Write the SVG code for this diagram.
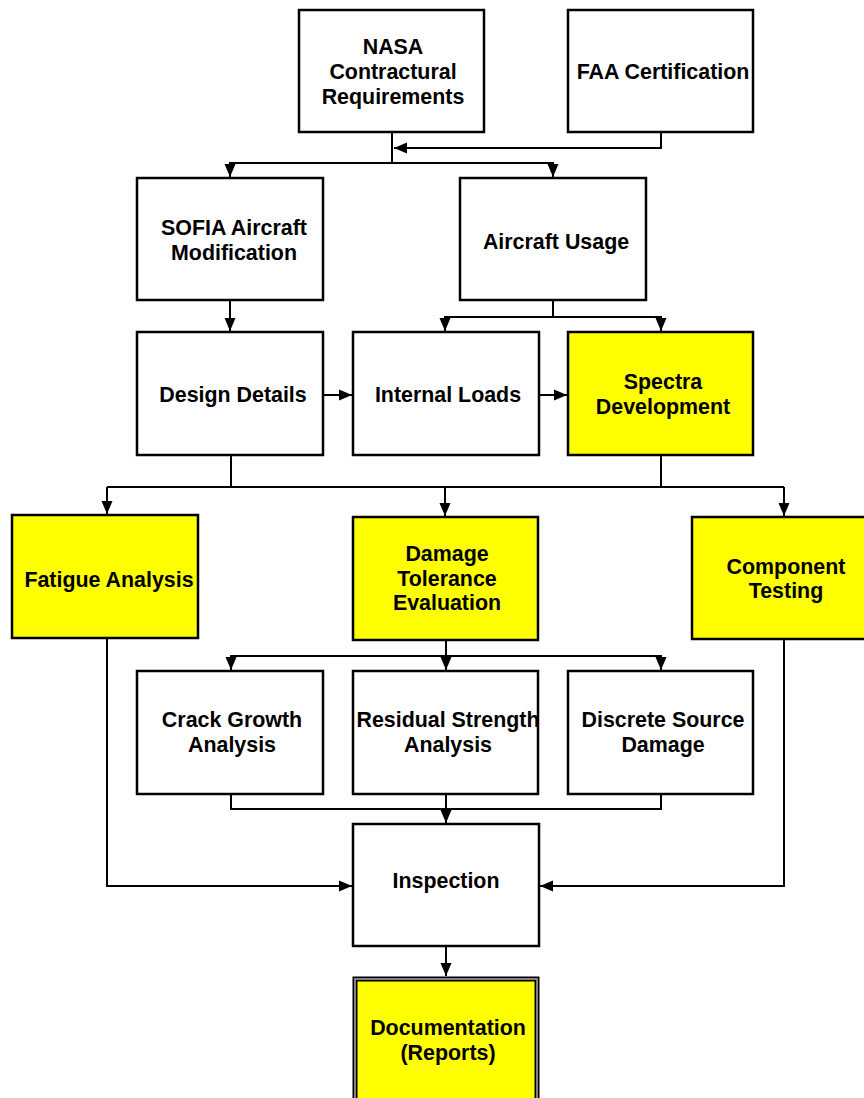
<svg xmlns="http://www.w3.org/2000/svg" width="864" height="1098" viewBox="0 0 864 1098">
<style>
.b{fill:#fff;stroke:#000;stroke-width:2.5}
.y{fill:#ffff00;stroke:#000;stroke-width:2.5}
.t{font-family:"Liberation Sans",Arial,sans-serif;font-weight:bold;font-size:21.4px;fill:#000;text-anchor:middle}
.c{fill:none;stroke:#000;stroke-width:2}
</style>
<defs>
<marker id="ah" markerUnits="userSpaceOnUse" markerWidth="13" markerHeight="12" viewBox="0 0 13 12" refX="13" refY="6" orient="auto">
<path d="M0,0.5 L13,6 L0,11.5 Z" fill="#000"/>
</marker>
</defs>
<rect width="864" height="1098" fill="#fff"/>
<g id="connectors">
<polyline class="c" points="661,132 661,148 394,148" marker-end="url(#ah)"/>
<line class="c" x1="392" y1="132" x2="392" y2="163"/>
<polyline class="c" points="392,163 230,163 230,177" marker-end="url(#ah)"/>
<polyline class="c" points="392,163 553,163 553,177" marker-end="url(#ah)"/>
<line class="c" x1="230" y1="300" x2="230" y2="331" marker-end="url(#ah)"/>
<line class="c" x1="553" y1="300" x2="553" y2="317"/>
<polyline class="c" points="553,317 445,317 445,331" marker-end="url(#ah)"/>
<polyline class="c" points="553,317 661,317 661,331" marker-end="url(#ah)"/>
<line class="c" x1="323" y1="395" x2="352" y2="395" marker-end="url(#ah)"/>
<line class="c" x1="539" y1="395" x2="567" y2="395" marker-end="url(#ah)"/>
<line class="c" x1="231" y1="456" x2="231" y2="487"/>
<line class="c" x1="661" y1="456" x2="661" y2="487"/>
<line class="c" x1="107" y1="487" x2="784" y2="487"/>
<line class="c" x1="107" y1="487" x2="107" y2="514" marker-end="url(#ah)"/>
<line class="c" x1="445" y1="487" x2="445" y2="516" marker-end="url(#ah)"/>
<line class="c" x1="784" y1="487" x2="784" y2="516" marker-end="url(#ah)"/>
<line class="c" x1="446" y1="640" x2="446" y2="656"/>
<polyline class="c" points="446,656 231,656 231,670" marker-end="url(#ah)"/>
<line class="c" x1="446" y1="656" x2="446" y2="670" marker-end="url(#ah)"/>
<polyline class="c" points="446,656 661,656 661,670" marker-end="url(#ah)"/>
<polyline class="c" points="231,794 231,809 661,809 661,794"/>
<line class="c" x1="446" y1="794" x2="446" y2="823" marker-end="url(#ah)"/>
<polyline class="c" points="107,638 107,886 352,886" marker-end="url(#ah)"/>
<polyline class="c" points="784,640 784,886 540,886" marker-end="url(#ah)"/>
<line class="c" x1="446" y1="946" x2="446" y2="976" marker-end="url(#ah)"/>
</g>
<g id="nasa">
<rect class="b" x="299" y="10" width="185" height="122"/>
<text class="t" x="393" y="54">NASA</text>
<text class="t" x="393" y="79">Contractural</text>
<text class="t" x="393" y="104">Requirements</text>
</g>
<g id="faa">
<rect class="b" x="568" y="10" width="185" height="122"/>
<text class="t" x="663" y="79">FAA Certification</text>
</g>
<g id="sofia">
<rect class="b" x="137" y="178" width="186" height="122"/>
<text class="t" x="234" y="235">SOFIA Aircraft</text>
<text class="t" x="234" y="260">Modification</text>
</g>
<g id="usage">
<rect class="b" x="460" y="178" width="186" height="122"/>
<text class="t" x="556" y="249">Aircraft Usage</text>
</g>
<g id="design">
<rect class="b" x="137" y="332" width="186" height="123"/>
<text class="t" x="233" y="402">Design Details</text>
</g>
<g id="loads">
<rect class="b" x="353" y="332" width="186" height="123"/>
<text class="t" x="448" y="402">Internal Loads</text>
</g>
<g id="spectra">
<rect class="y" x="568" y="332" width="185" height="123"/>
<text class="t" x="663" y="389">Spectra</text>
<text class="t" x="663" y="414">Development</text>
</g>
<g id="fatigue">
<rect class="y" x="12" y="515" width="186" height="123"/>
<text class="t" x="109" y="587">Fatigue Analysis</text>
</g>
<g id="damage">
<rect class="y" x="353" y="517" width="185" height="123"/>
<text class="t" x="447" y="561">Damage</text>
<text class="t" x="447" y="586">Tolerance</text>
<text class="t" x="447" y="610">Evaluation</text>
</g>
<g id="component">
<rect class="y" x="692" y="517" width="186" height="122"/>
<text class="t" x="786" y="574">Component</text>
<text class="t" x="786" y="598">Testing</text>
</g>
<g id="crack">
<rect class="b" x="137" y="671" width="186" height="123"/>
<text class="t" x="232" y="727">Crack Growth</text>
<text class="t" x="232" y="752">Analysis</text>
</g>
<g id="residual">
<rect class="b" x="353" y="671" width="185" height="123"/>
<text class="t" x="448" y="727">Residual Strength</text>
<text class="t" x="448" y="752">Analysis</text>
</g>
<g id="discrete">
<rect class="b" x="568" y="671" width="185" height="123"/>
<text class="t" x="663" y="727">Discrete Source</text>
<text class="t" x="663" y="752">Damage</text>
</g>
<g id="inspection">
<rect class="b" x="353" y="824" width="186" height="122"/>
<text class="t" x="446" y="888">Inspection</text>
</g>
<g id="documentation">
<rect x="355" y="979" width="182" height="130" fill="#ffff00" stroke="#000" stroke-width="5"/>
<rect x="355" y="979" width="182" height="130" fill="none" stroke="#808080" stroke-width="2"/>
<text class="t" x="448" y="1035">Documentation</text>
<text class="t" x="448" y="1060">(Reports)</text>
</g>
</svg>
